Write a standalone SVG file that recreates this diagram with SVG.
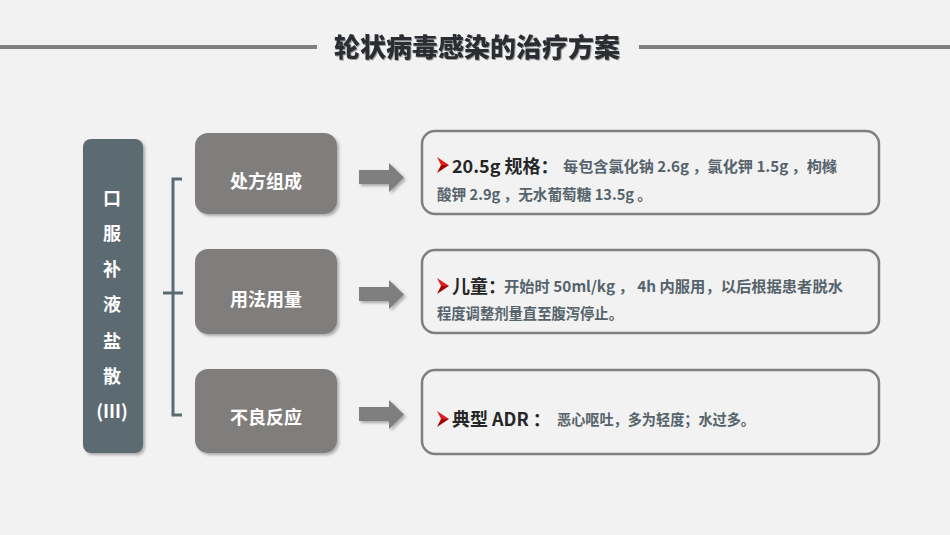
<svg xmlns="http://www.w3.org/2000/svg" width="950" height="535" viewBox="0 0 950 535">
<defs>
<filter id="sh" x="-20%" y="-20%" width="140%" height="150%">
<feDropShadow dx="2" dy="2" stdDeviation="1.5" flood-color="#000" flood-opacity="0.3"/>
</filter>
<filter id="tsh" x="-5%" y="-20%" width="110%" height="150%">
<feDropShadow dx="1" dy="1" stdDeviation="0.6" flood-color="#000" flood-opacity="0.35"/>
</filter>
<style>
text{font-family:"Noto Sans CJK SC","Noto Sans",sans-serif;}
.title{font-size:26px;font-weight:900;fill:#2b2e30;text-anchor:middle;}
.side{font-size:18px;font-weight:700;fill:#ffffff;text-anchor:middle;}
.lab{font-size:18px;font-weight:700;fill:#ffffff;text-anchor:middle;}
.gbox{fill:#807e7c;}
.dbox{fill:#f2f2f2;stroke:#7f7f7f;stroke-width:2.5;}
.arr{fill:#7f7f7f;}
.hd{font-size:18px;font-weight:700;fill:#262626;}
.tx{font-size:15px;font-weight:700;fill:#56636b;}
.br{fill:none;stroke:#5b6b72;stroke-width:3;}
.bl1{fill:#e02020;}
.bl2{fill:#a00000;}
</style>
</defs>
<rect width="950" height="535" fill="#f2f2f2"/>

<g id="title">
<line x1="0" y1="47" x2="317" y2="47" stroke="#808080" stroke-width="4"/>
<line x1="639" y1="47" x2="950" y2="47" stroke="#808080" stroke-width="4"/>
<text class="title" x="477" y="57" filter="url(#tsh)">轮状病毒感染的治疗方案</text>
</g>

<g id="drug">
<rect x="83" y="139" width="60" height="314" rx="8" fill="#5b6b72" filter="url(#sh)"/>
<text class="side" x="112" y="205">口</text>
<text class="side" x="112" y="240">服</text>
<text class="side" x="112" y="276">补</text>
<text class="side" x="112" y="311">液</text>
<text class="side" x="112" y="348">盐</text>
<text class="side" x="112" y="383">散</text>
<text class="side" x="112" y="418">(Ⅲ)</text>
</g>

<g id="connectors">
<path class="br" d="M182,179 H173 V415 H182 M163,293 H183"/>
<g filter="url(#sh)">
<polygon class="arr" points="359,170 389,170 389,163 404,177.5 389,192 389,184 359,184"/>
<polygon class="arr" points="359,287 389,287 389,280 404,294.5 389,309 389,301 359,301"/>
<polygon class="arr" points="359,407 389,407 389,400 404,414.5 389,429 389,421 359,421"/>
</g>
</g>

<g id="n1">
<rect class="gbox" x="195" y="133" width="142" height="81" rx="13" filter="url(#sh)"/>
<text class="lab" x="266" y="188">处方组成</text>
</g>
<g id="n2">
<rect class="gbox" x="195" y="249" width="142" height="85" rx="13" filter="url(#sh)"/>
<text class="lab" x="266" y="306">用法用量</text>
</g>
<g id="n3">
<rect class="gbox" x="195" y="369" width="142" height="84" rx="13" filter="url(#sh)"/>
<text class="lab" x="266" y="424">不良反应</text>
</g>

<g id="d1">
<rect class="dbox" x="422" y="131" width="457" height="83" rx="13"/>
<polygon class="bl1" points="437,157 449,165 441,165"/>
<polygon class="bl2" points="437,173 449,165 441,165"/>
<text class="hd" x="452" y="173">20.5g 规格：</text>
<text class="tx" x="563" y="172" textLength="274" lengthAdjust="spacingAndGlyphs">每包含氯化钠 2.6g ，氯化钾 1.5g ，枸橼</text>
<text class="tx" x="437" y="200" textLength="215" lengthAdjust="spacingAndGlyphs">酸钾 2.9g ，无水葡萄糖 13.5g 。</text>
</g>

<g id="d2">
<rect class="dbox" x="422" y="250" width="457" height="83" rx="13"/>
<polygon class="bl1" points="437,278 449,286 441,286"/>
<polygon class="bl2" points="437,294 449,286 441,286"/>
<text class="hd" x="452" y="293">儿童：</text>
<text class="tx" x="504" y="292" textLength="339" lengthAdjust="spacingAndGlyphs">开始时 50ml/kg ， 4h 内服用，以后根据患者脱水</text>
<text class="tx" x="437" y="319" textLength="186" lengthAdjust="spacingAndGlyphs">程度调整剂量直至腹泻停止。</text>
</g>

<g id="d3">
<rect class="dbox" x="422" y="370" width="457" height="84" rx="13"/>
<polygon class="bl1" points="437,411 449,419 441,419"/>
<polygon class="bl2" points="437,427 449,419 441,419"/>
<text class="hd" x="452" y="426">典型 ADR ：</text>
<text class="tx" x="557" y="425" textLength="198" lengthAdjust="spacingAndGlyphs">恶心呕吐，多为轻度；水过多。</text>
</g>
</svg>
